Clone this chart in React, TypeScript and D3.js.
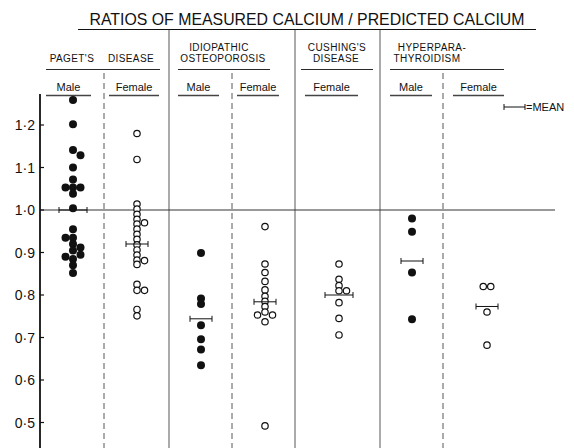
import React from 'react';
import * as d3 from 'd3';

// ---------- DATA ----------
const title = 'RATIOS OF MEASURED CALCIUM / PREDICTED CALCIUM';
const groupLabels: string[][] = [
  ["PAGET'S", 'DISEASE'],
  ['IDIOPATHIC', 'OSTEOPOROSIS'],
  ["CUSHING'S", 'DISEASE'],
  ['HYPERPARA-', 'THYROIDISM'],
];
const subgroupLabels = ['Male', 'Female', 'Male', 'Female', 'Female', 'Male', 'Female'];
const subgroupFilled = [true, false, true, false, false, true, false];
const yTicks = [0.5, 0.6, 0.7, 0.8, 0.9, 1.0, 1.1, 1.2];
const yTickLabels = ['0·5', '0·6', '0·7', '0·8', '0·9', '1·0', '1·1', '1·2'];

const pagetMale = [1.259, 1.202, 1.141, 1.129, 1.100, 1.072, 1.053, 1.053, 1.053, 1.038, 1.004,
  0.955, 0.935, 0.935, 0.920, 0.912, 0.905, 0.895, 0.890, 0.885, 0.870, 0.852];
const pagetMaleSide = [0, 0, 0, 1, 0, 0, -1, 0, 1, 0, 0, 0, -1, 0, 0, 1, 0, 1, -1, 0, 0, 0];
const pagetFemale = [1.180, 1.119, 1.014, 1.002, 0.990, 0.978, 0.967, 0.970, 0.955, 0.943, 0.931,
  0.918, 0.906, 0.894, 0.882, 0.881, 0.872, 0.825, 0.811, 0.811, 0.766, 0.751];
const pagetFemaleSide = [0, 0, 0, 0, 0, 0, 0, 1, 0, 0, 0, 0, 0, 0, 0, 1, 0, 0, 0, 1, 0, 0];
const idioMale = [0.899, 0.792, 0.779, 0.729, 0.696, 0.672, 0.635];
const idioMaleSide = [0, 0, 0, 0, 0, 0, 0];
const idioFemale = [0.961, 0.873, 0.853, 0.832, 0.812, 0.797, 0.785, 0.773, 0.760, 0.753, 0.753, 0.737, 0.492];
const idioFemaleSide = [0, 0, 0, 0, 0, 0, 0, 0, 0, -1, 1, 0, 0];
const cushingFemale = [0.873, 0.837, 0.822, 0.810, 0.810, 0.782, 0.745, 0.706];
const cushingFemaleSide = [0, 0, 0, 0, 1, 0, 0, 0];
const hyperMale = [0.980, 0.949, 0.853, 0.743];
const hyperMaleSide = [0, 0, 0, 0];
const hyperFemale = [0.820, 0.820, 0.760, 0.682];
const hyperFemaleSide = [-0.5, 0.5, 0, 0];
const means = [1.0, 0.92, 0.744, 0.784, 0.80, 0.88, 0.773];

const seriesValues = [pagetMale, pagetFemale, idioMale, idioFemale, cushingFemale, hyperMale, hyperFemale];
const seriesSides = [pagetMaleSide, pagetFemaleSide, idioMaleSide, idioFemaleSide, cushingFemaleSide, hyperMaleSide, hyperFemaleSide];

// ---------- LAYOUT ----------
const W = 574, H = 448;
const AXIS_X = 40;
const colCenters = [73, 137, 201, 265, 339, 412, 487];
const meanHalf = [14, 11, 11, 11, 14, 11, 11];
const solidX = [169, 295, 380];
const dashedX = [104, 232, 443];
// per-line label anchors [x, baseline]
const groupLabelPos: [number, number][][] = [
  [[72, 62], [131, 62]],
  [[219, 51], [223, 62]],
  [[337, 51], [336, 62]],
  [[432, 51], [427, 62]],
];
const groupUnderline: [number, number][] = [[46, 160], [178, 270], [301, 373], [390, 504]];
const subUnderline: [number, number][] = [[46, 91], [109, 159], [178, 219], [237, 279], [305, 358], [390, 432], [453, 504]];
const SIDE = 7.5;
const FONT = "'Liberation Sans', Arial, sans-serif";

export default function App() {
  const y = d3.scaleLinear().domain([0.5, 1.0]).range([422.5, 210]);
  const ink = '#111';

  return (
    <svg width={W} height={H} style={{ position: 'absolute', left: 0, top: 0, background: '#fff' }}
      fontFamily={FONT}>
      <rect width={W} height={H} fill="#fff" />
      {/* title */}
      <text x={307} y={25} fontSize={17} textAnchor="middle" fill={ink}
        textLength={435} lengthAdjust="spacingAndGlyphs">{title}</text>
      <line x1={78} x2={536} y1={29.5} y2={29.5} stroke={ink} strokeWidth={1} />

      {/* group labels */}
      {groupLabels.map((lines, i) => (
        <g key={i}>
          {lines.map((t, j) => (
            <text key={j} x={groupLabelPos[i][j][0]} y={groupLabelPos[i][j][1]} fontSize={10}
              textAnchor="middle" fill={ink} letterSpacing={0.4}>{t}</text>
          ))}
          <line x1={groupUnderline[i][0]} x2={groupUnderline[i][1]} y1={69.5} y2={69.5} stroke={ink} strokeWidth={0.9} />
        </g>
      ))}

      {/* subgroup labels */}
      {subgroupLabels.map((t, i) => (
        <g key={i}>
          <text x={(subUnderline[i][0] + subUnderline[i][1]) / 2} y={91} fontSize={11}
            textAnchor="middle" fill={ink}>{t}</text>
          <line x1={subUnderline[i][0]} x2={subUnderline[i][1]} y1={95.5} y2={95.5} stroke="#444" strokeWidth={1.3} />
        </g>
      ))}

      {/* separators */}
      {solidX.map((x, i) => (
        <line key={'s' + i} x1={x} x2={x} y1={30} y2={H} stroke="#444" strokeWidth={0.9} />
      ))}
      {dashedX.map((x, i) => (
        <line key={'d' + i} x1={x} x2={x} y1={73} y2={H} stroke="#444" strokeWidth={0.9} strokeDasharray="6,4" />
      ))}

      {/* 1.0 reference line */}
      <line x1={AXIS_X} x2={555} y1={y(1.0)} y2={y(1.0)} stroke="#333" strokeWidth={1} />

      {/* y axis */}
      <line x1={AXIS_X} x2={AXIS_X} y1={94} y2={H} stroke={ink} strokeWidth={1.8} />
      {yTicks.map((t, i) => (
        <g key={t}>
          <line x1={AXIS_X} x2={AXIS_X + 4} y1={y(t)} y2={y(t)} stroke={ink} strokeWidth={1.2} />
          <text x={35} y={y(t) + 5} fontSize={14} textAnchor="end" fill={ink}>{yTickLabels[i]}</text>
        </g>
      ))}

      {/* points */}
      {seriesValues.map((vals, si) => (
        <g key={si}>
          {vals.map((v, k) => (
            subgroupFilled[si]
              ? <circle key={k} cx={colCenters[si] + seriesSides[si][k] * SIDE} cy={y(v)} r={4} fill={ink} />
              : <circle key={k} cx={colCenters[si] + seriesSides[si][k] * SIDE} cy={y(v)} r={3.2}
                  fill="#fff" stroke={ink} strokeWidth={1.2} />
          ))}
        </g>
      ))}

      {/* means */}
      {means.map((m, i) => (
        <g key={i} stroke={ink} strokeWidth={1}>
          <line x1={colCenters[i] - meanHalf[i]} x2={colCenters[i] + meanHalf[i]} y1={y(m)} y2={y(m)} />
          <line x1={colCenters[i] - meanHalf[i]} x2={colCenters[i] - meanHalf[i]} y1={y(m) - 3} y2={y(m) + 3} />
          <line x1={colCenters[i] + meanHalf[i]} x2={colCenters[i] + meanHalf[i]} y1={y(m) - 3} y2={y(m) + 3} />
        </g>
      ))}

      {/* legend */}
      <g stroke={ink} strokeWidth={1}>
        <line x1={504} x2={525} y1={107} y2={107} />
        <line x1={504} x2={504} y1={104} y2={110} />
        <line x1={525} x2={525} y1={104} y2={110} />
      </g>
      <text x={526} y={111} fontSize={11} fill={ink}>=MEAN</text>
    </svg>
  );
}
